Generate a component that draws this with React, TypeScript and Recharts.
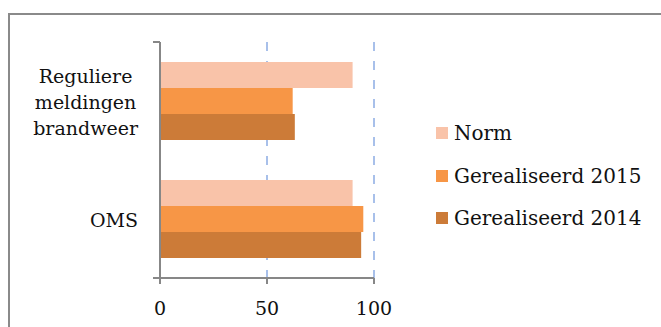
import React from 'react';
import { BarChart, Bar, XAxis, YAxis, CartesianGrid, Legend } from 'recharts';

// categories, top to bottom
const categories = ['Reguliere meldingen brandweer', 'OMS'];
const categoryLines = [['Reguliere', 'meldingen', 'brandweer'], ['OMS']];

// percentages per category
const normValues = [90, 90];
const realised2015 = [62, 95];
const realised2014 = [63, 94];

const xTicks = [0, 50, 100];
// band edges of the two categories, used for the y-axis tick marks
const edgeTicks = [0, 1, 2];

const seriesKeys = ['norm', 'g2015', 'g2014'];
const seriesNames = ['Norm', 'Gerealiseerd 2015', 'Gerealiseerd 2014'];
const seriesColors = ['#F9C3A9', '#F79646', '#CC7B38'];

const FONT = '"DejaVu Serif", serif';
const FONT_SIZE = 19;
const AXIS_GREY = '#878787';

const data = categories.map((name, i) => ({
  name,
  norm: normValues[i],
  g2015: realised2015[i],
  g2014: realised2014[i],
}));

let measureCtx: CanvasRenderingContext2D | null = null;
const textWidth = (s: string) => {
  if (!measureCtx) {
    measureCtx = document.createElement('canvas').getContext('2d');
  }
  if (!measureCtx) return s.length * FONT_SIZE * 0.55;
  measureCtx.font = `${FONT_SIZE}px "DejaVu Serif"`;
  return measureCtx.measureText(s).width;
};

// multi-line label: block is right aligned to the axis, lines centred inside it
const CategoryTick = (props: any) => {
  const { x, y, payload, index } = props;
  const idx = payload && typeof payload.index === 'number' ? payload.index : index;
  const lines = categoryLines[idx] || [String(payload.value)];
  const blockW = Math.max(...lines.map(textWidth));
  const cx = x - blockW / 2;
  const lineH = 26;
  const startY = y - ((lines.length - 1) * lineH) / 2;
  return (
    <text x={cx} y={startY} textAnchor="middle" fill="#111" fontSize={FONT_SIZE} fontFamily={FONT}>
      {lines.map((l, i) => (
        <tspan key={l} x={cx} y={startY + i * lineH} dy="0.42em">
          {l}
        </tspan>
      ))}
    </text>
  );
};

// edge ticks carry only the tick mark, no label
const NoLabel = () => <g />;

const renderLegend = () => (
  <div style={{ display: 'flex', flexDirection: 'column', fontFamily: FONT, fontSize: 20, color: '#111' }}>
    {seriesNames.map((n, i) => (
      <div key={n} style={{ display: 'flex', alignItems: 'center', height: 42.5, whiteSpace: 'nowrap' }}>
        <span style={{ width: 12, height: 12, background: seriesColors[i], marginRight: 6, display: 'inline-block' }} />
        <span>{n}</span>
      </div>
    ))}
  </div>
);

export default function App() {
  return (
    <div style={{ position: 'relative', width: 661, height: 327, overflow: 'hidden', background: '#fff', fontFamily: FONT }}>
      <style>{'body{margin:0}'}</style>
      <div
        style={{
          position: 'absolute',
          left: 8,
          top: 13,
          width: 800,
          height: 500,
          borderLeft: '2px solid #8a8a8a',
          borderTop: '2px solid #8a8a8a',
        }}
      />
      <div style={{ position: 'absolute', left: 0, top: 0 }}>
        <BarChart
          width={661}
          height={327}
          data={data}
          layout="vertical"
          margin={{ top: 42, right: 287, bottom: 9, left: 0 }}
          barCategoryGap={20}
          barGap={0}
        >
          <CartesianGrid horizontal={false} stroke="#A8C0EA" strokeDasharray="9 10" strokeWidth={2} />
          <XAxis
            type="number"
            domain={[0, 100]}
            ticks={xTicks}
            height={40}
            axisLine={{ stroke: AXIS_GREY, strokeWidth: 2 }}
            tickLine={{ stroke: AXIS_GREY, strokeWidth: 2 }}
            tickSize={6}
            tickMargin={18}
            tick={{ fill: '#111', fontSize: FONT_SIZE, fontFamily: FONT }}
          />
          {/* axis line with tick marks on the category band edges */}
          <YAxis
            yAxisId={0}
            type="number"
            domain={[0, 2]}
            ticks={edgeTicks}
            width={1}
            axisLine={{ stroke: AXIS_GREY, strokeWidth: 2 }}
            tickLine={{ stroke: AXIS_GREY, strokeWidth: 2 }}
            tickSize={7}
            tick={<NoLabel />}
          />
          <YAxis
            yAxisId="labels"
            type="category"
            dataKey="name"
            width={159}
            axisLine={false}
            tickLine={false}
            tickSize={0}
            tickMargin={21}
            tick={<CategoryTick />}
            interval={0}
          />
          <Legend
            layout="horizontal"
            verticalAlign="middle"
            align="center"
            wrapperStyle={{ left: 436, top: 112, width: 220 }}
            content={renderLegend}
          />
          {seriesKeys.map((k, i) => (
            <Bar
              key={k}
              yAxisId="labels"
              dataKey={k}
              name={seriesNames[i]}
              fill={seriesColors[i]}
              isAnimationActive={false}
            />
          ))}
        </BarChart>
      </div>
    </div>
  );
}
